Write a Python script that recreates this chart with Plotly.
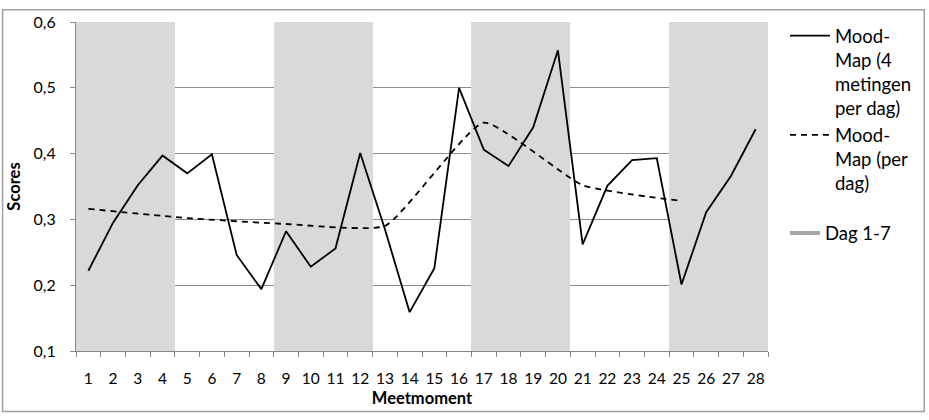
import plotly.graph_objects as go

moments = [str(i) for i in range(1, 29)]
mood_4 = [0.222, 0.295, 0.352, 0.397, 0.370, 0.399, 0.246, 0.194, 0.282, 0.228,
          0.256, 0.401, 0.285, 0.159, 0.226, 0.500, 0.406, 0.381, 0.440, 0.557,
          0.262, 0.351, 0.390, 0.393, 0.201, 0.311, 0.366, 0.437]
day_moments = ["1", "5", "9", "13", "17", "21", "25"]
mood_day = [0.316, 0.302, 0.293, 0.290, 0.447, 0.352, 0.328]
dag_band = [0.6 if ((i - 1) // 4) % 2 == 0 else 0 for i in range(1, 29)]

FONT = "Lato"
GRAY = "#d9d9d9"
AX = "#868686"

fig = go.Figure()
fig.add_trace(go.Bar(x=moments, y=dag_band, width=1, marker=dict(color=GRAY, line_width=0),
                     showlegend=False, hoverinfo="skip"))
fig.add_trace(go.Scatter(x=moments, y=mood_4, mode="lines", name="Mood-<br>Map (4<br>metingen<br>per dag)",
                         line=dict(color="black", width=1.8)))
fig.add_trace(go.Scatter(x=day_moments, y=mood_day, mode="lines", name="Mood-<br>Map (per<br>dag)",
                         line=dict(color="black", width=1.8, dash="6px,5px", shape="spline", smoothing=0.45)))
fig.add_trace(go.Scatter(x=[None], y=[None], mode="lines", name="Dag 1-7",
                         line=dict(color="#a6a6a6", width=4), legend="legend2"))

W, H = 929, 420
L, R, T, B = 76, 160, 16, 69
pw, ph = W - L - R, H - T - B

def px_x(x):
    return (x - L) / pw

def px_y(y):
    return (H - B - y) / ph

fig.update_layout(
    width=W, height=H,
    margin=dict(l=L, r=R, t=T, b=B),
    paper_bgcolor="white", plot_bgcolor="white",
    separators=",.",
    font=dict(family=FONT, size=16, color="black"),
    bargap=0,
    xaxis=dict(type="category", range=[-0.5, 27.5], tickson="boundaries", ticks="outside",
               ticklen=5, tickcolor=AX, showline=True, linecolor=AX, linewidth=1,
               showgrid=False, ticklabelstandoff=13, tickangle=0, tickfont=dict(size=15.5),
               title=dict(text="<b>Meetmoment</b>", font=dict(size=16.5), standoff=6)),
    yaxis=dict(range=[0.1, 0.6], dtick=0.1, tickformat=".1f", ticks="outside", ticklen=5,
               tickcolor=AX, showline=True, linecolor=AX, linewidth=1,
               showgrid=True, gridcolor="#8c8c8c", gridwidth=1, zeroline=False,
               ticklabelstandoff=11,
               title=dict(text="<b>Scores</b>", font=dict(size=16.5), standoff=8)),
    legend=dict(x=px_x(786), y=px_y(11), xanchor="left", yanchor="top", valign="top",
                font=dict(size=18.5), bgcolor="rgba(0,0,0,0)", tracegroupgap=0, itemwidth=40),
    legend2=dict(x=px_x(786), y=px_y(212), xanchor="left", yanchor="top", valign="top",
                 font=dict(size=18.5), bgcolor="rgba(0,0,0,0)"),
    shapes=[dict(type="rect", xref="paper", yref="paper",
                 x0=px_x(2.5), x1=px_x(925.5), y0=px_y(412.5), y1=px_y(3.5),
                 line=dict(color="#a0a0a0", width=1.5), layer="below")],
    showlegend=True,
)

fig.write_html("out.html")
